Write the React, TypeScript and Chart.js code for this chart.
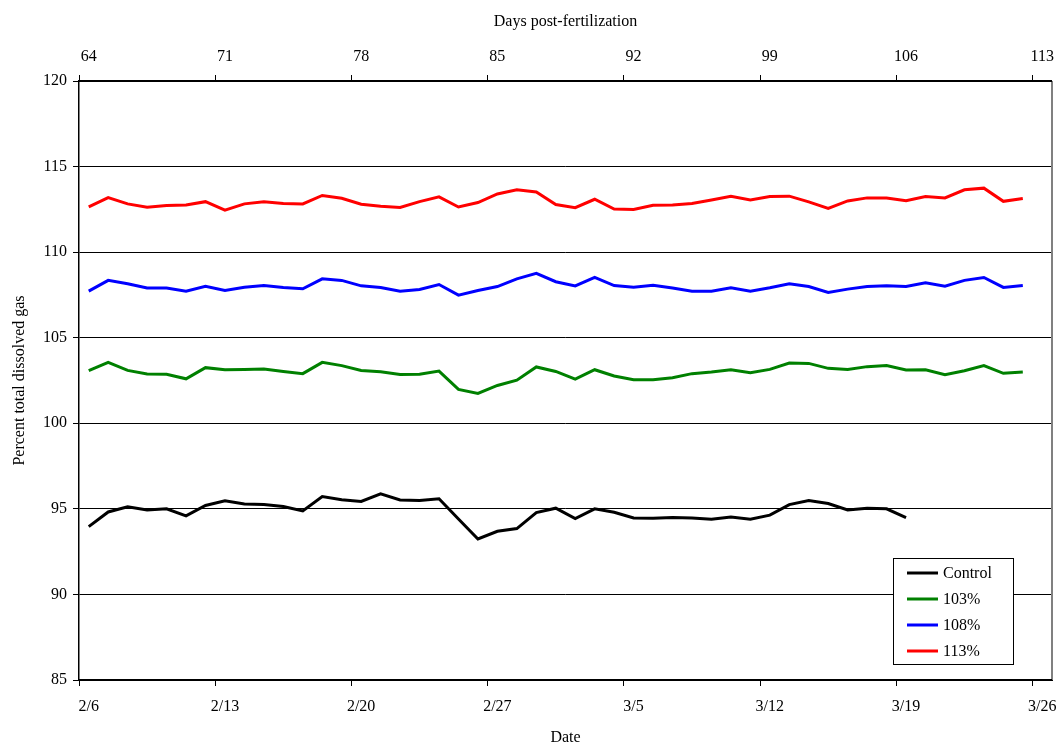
import React, { useEffect, useRef } from "react";
import { Chart, registerables } from "chart.js";

Chart.register(...registerables);

const dates = [
  "2/6", "2/7", "2/8", "2/9", "2/10", "2/11", "2/12", "2/13", "2/14", "2/15",
  "2/16", "2/17", "2/18", "2/19", "2/20", "2/21", "2/22", "2/23", "2/24", "2/25",
  "2/26", "2/27", "2/28", "2/29", "3/1", "3/2", "3/3", "3/4", "3/5", "3/6",
  "3/7", "3/8", "3/9", "3/10", "3/11", "3/12", "3/13", "3/14", "3/15", "3/16",
  "3/17", "3/18", "3/19", "3/20", "3/21", "3/22", "3/23", "3/24", "3/25",
];

const bottomTickLabels = ["2/6", "2/13", "2/20", "2/27", "3/5", "3/12", "3/19", "3/26"];
const topTickLabels = ["64", "71", "78", "85", "92", "99", "106", "113"];

const control = [
  93.96, 94.82, 95.12, 94.94, 95.0, 94.59, 95.2, 95.47, 95.29, 95.25,
  95.14, 94.88, 95.72, 95.53, 95.43, 95.88, 95.52, 95.49, 95.59, 94.41,
  93.24, 93.69, 93.85, 94.78, 95.04, 94.43, 95.0, 94.8, 94.47, 94.45,
  94.49, 94.47, 94.39, 94.53, 94.39, 94.63, 95.25, 95.49, 95.31, 94.94,
  95.04, 95.0, 94.49,
];

const pct103 = [
  103.07, 103.56, 103.09, 102.88, 102.86, 102.6, 103.25, 103.13, 103.15, 103.17,
  103.03, 102.9, 103.56, 103.37, 103.09, 103.01, 102.85, 102.86, 103.05, 101.98,
  101.74, 102.21, 102.52, 103.29, 103.03, 102.58, 103.13, 102.76, 102.54, 102.54,
  102.66, 102.9, 103.0, 103.13, 102.95, 103.15, 103.52, 103.5, 103.21, 103.15,
  103.31, 103.37, 103.11, 103.13, 102.84, 103.07, 103.37, 102.92, 102.99,
];

const pct108 = [
  107.72, 108.35, 108.15, 107.9, 107.9, 107.72, 108.01, 107.76, 107.95, 108.05,
  107.94, 107.86, 108.44, 108.35, 108.03, 107.93, 107.72, 107.82, 108.11, 107.49,
  107.76, 107.99, 108.44, 108.76, 108.27, 108.03, 108.52, 108.05, 107.95, 108.07,
  107.9, 107.72, 107.72, 107.92, 107.72, 107.92, 108.15, 107.99, 107.64, 107.84,
  107.99, 108.03, 107.99, 108.21, 108.01, 108.35, 108.52, 107.94, 108.05,
];

const pct113 = [
  112.64, 113.19, 112.82, 112.62, 112.72, 112.76, 112.95, 112.45, 112.82, 112.94,
  112.84, 112.82, 113.31, 113.15, 112.8, 112.68, 112.61, 112.95, 113.23, 112.64,
  112.9, 113.4, 113.64, 113.52, 112.78, 112.6, 113.09, 112.52, 112.49, 112.74,
  112.76, 112.84, 113.05, 113.27, 113.05, 113.25, 113.27, 112.94, 112.56, 112.99,
  113.17, 113.17, 113.01, 113.25, 113.17, 113.64, 113.74, 112.97, 113.13,
];

const seriesNames = ["Control", "103%", "108%", "113%"];
const seriesColors = ["#000000", "#008000", "#0000ff", "#ff0000"];

const FONT = '"Liberation Serif", "Times New Roman", serif';

const toPoints = (vals: number[]) => vals.map((v, i) => ({ x: i + 0.5, y: v }));

const framePlugin = {
  id: "frame",
  afterDatasetsDraw(chart: any) {
    const { ctx, chartArea } = chart;
    ctx.save();
    ctx.strokeStyle = "#808080";
    ctx.lineWidth = 2;
    ctx.beginPath();
    ctx.moveTo(chartArea.right, chartArea.top);
    ctx.lineTo(chartArea.right, chartArea.bottom);
    ctx.stroke();
    ctx.strokeStyle = "#000";
    ctx.lineWidth = 2;
    ctx.beginPath();
    ctx.moveTo(chartArea.left, chartArea.top);
    ctx.lineTo(chartArea.right, chartArea.top);
    ctx.moveTo(chartArea.left, chartArea.bottom);
    ctx.lineTo(chartArea.right, chartArea.bottom);
    ctx.stroke();
    ctx.restore();
  },
  afterDraw(chart: any) {
    const { ctx, chartArea } = chart;
    const w = 120;
    const h = 106;
    const x = chartArea.right - 39 - w;
    const y = chartArea.bottom - 16 - h;
    ctx.save();
    ctx.fillStyle = "#fff";
    ctx.fillRect(x, y, w, h);
    ctx.strokeStyle = "#000";
    ctx.lineWidth = 1;
    ctx.strokeRect(x + 0.5, y + 0.5, w, h);
    ctx.font = `16px ${FONT}`;
    ctx.textBaseline = "middle";
    ctx.textAlign = "left";
    chart.data.datasets.forEach((ds: any, k: number) => {
      const ry = y + 15 + k * 26;
      ctx.strokeStyle = ds.borderColor;
      ctx.lineWidth = 3;
      ctx.beginPath();
      ctx.moveTo(x + 14, ry);
      ctx.lineTo(x + 45, ry);
      ctx.stroke();
      ctx.fillStyle = "#000";
      ctx.fillText(ds.label, x + 50, ry + 1);
    });
    ctx.restore();
  },
};

const weekTicks = (scale: any) => {
  const t = [];
  for (let v = 0; v <= 49; v += 7) t.push({ value: v });
  scale.ticks = t;
};

export default function App() {
  const ref = useRef<HTMLCanvasElement>(null);

  useEffect(() => {
    document.body.style.margin = "0";
    const canvas = ref.current;
    if (!canvas) return;
    const datasets = [control, pct103, pct108, pct113].map((vals, k) => ({
      label: seriesNames[k],
      data: toPoints(vals),
      borderColor: seriesColors[k],
      backgroundColor: seriesColors[k],
      borderWidth: 3,
      pointRadius: 0,
      tension: 0,
      fill: false,
      xAxisID: "x",
    }));

    const chart = new Chart(canvas, {
      type: "line",
      data: { datasets },
      plugins: [framePlugin],
      options: {
        responsive: false,
        animation: false,
        layout: { padding: { left: 0, right: 9, top: 0, bottom: 0 } },
        plugins: { legend: { display: false }, tooltip: { enabled: false } },
        scales: {
          x: {
            type: "linear",
            position: "bottom",
            min: 0,
            max: 50,
            afterBuildTicks: weekTicks,
            afterFit: (s: any) => { s.height = 67; },
            ticks: {
              autoSkip: false,
              maxRotation: 0,
              padding: 11,
              labelOffset: 9.7,
              color: "#000",
              font: { family: FONT, size: 16 },
              callback: (_v: any, i: number) => bottomTickLabels[i],
            },
            grid: { drawOnChartArea: false, drawTicks: true, tickLength: 6, color: "#000" },
            border: { display: true, color: "#000", width: 1 },
            title: {
              display: true,
              text: "Date",
              color: "#000",
              font: { family: FONT, size: 16 },
              padding: { top: 0, bottom: 0 },
            },
          },
          x2: {
            type: "linear",
            position: "top",
            min: 0,
            max: 50,
            afterBuildTicks: weekTicks,
            afterFit: (s: any) => { s.height = 81; },
            ticks: {
              autoSkip: false,
              maxRotation: 0,
              padding: 9,
              labelOffset: 9.7,
              color: "#000",
              font: { family: FONT, size: 16 },
              callback: (_v: any, i: number) => topTickLabels[i],
            },
            grid: { drawOnChartArea: false, drawTicks: true, tickLength: 6, color: "#000" },
            border: { display: true, color: "#000", width: 1 },
            title: {
              display: true,
              text: "Days post-fertilization",
              color: "#000",
              font: { family: FONT, size: 16 },
              padding: { top: 12, bottom: 0 },
            },
          },
          y: {
            type: "linear",
            min: 85,
            max: 120,
            afterFit: (s: any) => { s.width = 79; },
            ticks: {
              stepSize: 5,
              padding: 6,
              color: "#000",
              font: { family: FONT, size: 16 },
            },
            grid: { drawOnChartArea: true, drawTicks: true, tickLength: 6, color: "#000", lineWidth: 1 },
            border: { display: true, color: "#000", width: 1.5 },
            title: {
              display: true,
              text: "Percent total dissolved gas",
              color: "#000",
              font: { family: FONT, size: 16 },
              padding: { top: 10, bottom: 0 },
            },
          },
        },
      },
    } as any);
    return () => chart.destroy();
  }, []);

  return <canvas ref={ref} width={1061} height={747} style={{ display: "block" }} />;
}
